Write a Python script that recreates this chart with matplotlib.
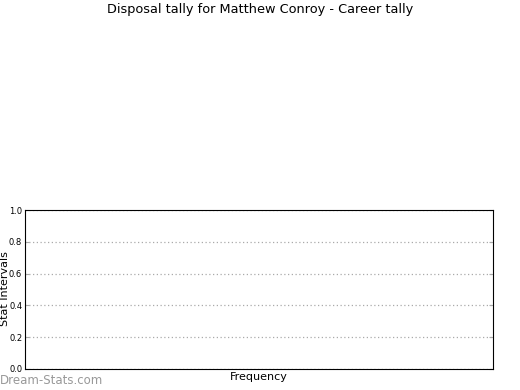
import matplotlib
matplotlib.use("Agg")
import matplotlib.pyplot as plt

title = "Disposal tally for Matthew Conroy - Career tally"
stat_intervals = []   # no data in the chart
frequencies = []
y_ticks = [0.0, 0.2, 0.4, 0.6, 0.8, 1.0]
y_tick_labels = ["0.0", "0.2", "0.4", "0.6", "0.8", "1.0"]

fig = plt.figure(figsize=(5.2, 3.9), dpi=100)
ax = fig.add_axes([25/520, 1-369/390, (493-25)/520, (369-210)/390])
ax.barh(stat_intervals, frequencies)
ax.set_ylim(0, 1)
ax.set_xlim(0, 1)
ax.set_yticks(y_ticks)
ax.set_yticklabels(y_tick_labels, fontsize=6)
ax.set_xticks([])
ax.tick_params(axis='y', direction='in', length=3, color='#aaaaaa', right=True, left=True, pad=2)
for s in ax.spines.values():
    s.set_linewidth(0.8)
ax.yaxis.grid(True, linestyle=(0, (1, 2)), color='#aaaaaa', linewidth=0.9)
ax.set_xlabel("Frequency", fontsize=8, labelpad=2)
fig.text(0, 1-289/390, "Stat Intervals", fontsize=8, rotation=90, ha='left', va='center')
fig.suptitle(title, fontsize=9.3, y=1-10/390, va='center')
fig.text(0, 1-380/390, "Dream-Stats.com", fontsize=8.5, color='#999999', va='center', ha='left')
fig.savefig("out.png", dpi=100)
